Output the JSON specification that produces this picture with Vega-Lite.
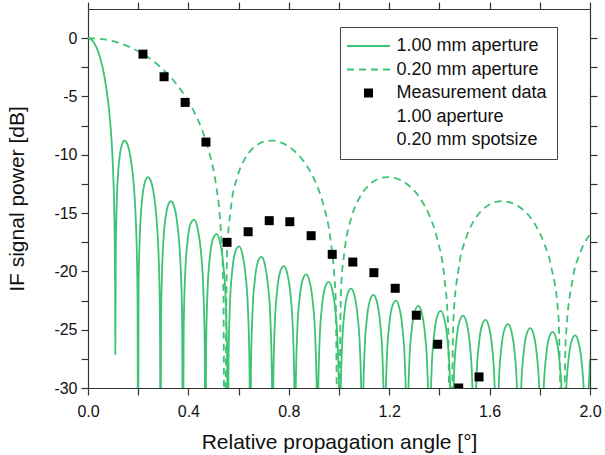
{
  "$schema": "https://vega.github.io/schema/vega-lite/v6.json",
  "width": 502,
  "height": 379,
  "autosize": "none",
  "padding": {"left": 88, "top": 9, "right": 15, "bottom": 67},
  "background": "white",
  "config": {"view": {"stroke": null}, "font": "Liberation Sans"},
  "datasets": {
    "solid": [
      {"x": 0, "y": 0}, {"x": 0.0114, "y": -0.09}, {"x": 0.0227, "y": -0.35}, {"x": 0.0341, "y": -0.81}, {"x": 0.0454, "y": -1.47}, {"x": 0.0568, "y": -2.39}, {"x": 0.0682, "y": -3.63}, {"x": 0.0795, "y": -5.34}, {"x": 0.0852, "y": -6.46}, {"x": 0.0909, "y": -7.87}, {"x": 0.0966, "y": -9.77}, {"x": 0.1022, "y": -12.75}, {"x": 0.1051, "y": -15.36}, {"x": 0.1079, "y": -21.72}, {"x": 0.1088, "y": -27.1},
      {"x": 0.1108, "y": -18.5}, {"x": 0.1136, "y": -14.81}, {"x": 0.1193, "y": -11.8}, {"x": 0.125, "y": -10.35}, {"x": 0.1306, "y": -9.52}, {"x": 0.1363, "y": -9.05}, {"x": 0.142, "y": -8.83}, {"x": 0.1477, "y": -8.79}, {"x": 0.1534, "y": -8.93}, {"x": 0.159, "y": -9.23}, {"x": 0.1647, "y": -9.7}, {"x": 0.1704, "y": -10.35}, {"x": 0.1761, "y": -11.24}, {"x": 0.1818, "y": -12.46}, {"x": 0.1874, "y": -14.22}, {"x": 0.1931, "y": -17.17}, {"x": 0.196, "y": -19.97}, {"x": 0.1974, "y": -22.47}, {"x": 0.1992, "y": -40},
      {"x": 0.2016, "y": -21.47}, {"x": 0.2045, "y": -18.22}, {"x": 0.2102, "y": -15.28}, {"x": 0.2158, "y": -13.78}, {"x": 0.2272, "y": -12.32}, {"x": 0.2386, "y": -11.91}, {"x": 0.2499, "y": -12.22}, {"x": 0.2613, "y": -13.25}, {"x": 0.2726, "y": -15.37}, {"x": 0.2783, "y": -17.23}, {"x": 0.284, "y": -20.6}, {"x": 0.2868, "y": -24.39}, {"x": 0.2889, "y": -40},
      {"x": 0.2911, "y": -24.28}, {"x": 0.2954, "y": -19.72}, {"x": 0.301, "y": -17.19}, {"x": 0.3124, "y": -14.93}, {"x": 0.3238, "y": -14.09}, {"x": 0.3294, "y": -13.98}, {"x": 0.3408, "y": -14.29}, {"x": 0.3522, "y": -15.32}, {"x": 0.3635, "y": -17.61}, {"x": 0.3692, "y": -19.66}, {"x": 0.3749, "y": -23.88}, {"x": 0.3784, "y": -40},
      {"x": 0.3811, "y": -25.18}, {"x": 0.3873, "y": -20.12}, {"x": 0.3963, "y": -17.47}, {"x": 0.4097, "y": -15.86}, {"x": 0.4231, "y": -15.57}, {"x": 0.4365, "y": -16.28}, {"x": 0.4499, "y": -18.29}, {"x": 0.4588, "y": -21.22}, {"x": 0.4651, "y": -26.48}, {"x": 0.4678, "y": -40},
      {"x": 0.4705, "y": -26.54}, {"x": 0.4767, "y": -21.46}, {"x": 0.4857, "y": -18.78}, {"x": 0.4991, "y": -17.14}, {"x": 0.5125, "y": -16.81}, {"x": 0.5258, "y": -17.48}, {"x": 0.5392, "y": -19.46}, {"x": 0.5482, "y": -22.36}, {"x": 0.5544, "y": -27.6}, {"x": 0.5571, "y": -40},
      {"x": 0.5598, "y": -27.67}, {"x": 0.566, "y": -22.57}, {"x": 0.575, "y": -19.88}, {"x": 0.5884, "y": -18.22}, {"x": 0.6018, "y": -17.86}, {"x": 0.6151, "y": -18.51}, {"x": 0.6285, "y": -20.46}, {"x": 0.6375, "y": -23.35}, {"x": 0.6437, "y": -28.57}, {"x": 0.6464, "y": -40},
      {"x": 0.6491, "y": -28.63}, {"x": 0.6553, "y": -23.52}, {"x": 0.6643, "y": -20.82}, {"x": 0.6777, "y": -19.13}, {"x": 0.6911, "y": -18.76}, {"x": 0.7044, "y": -19.39}, {"x": 0.7178, "y": -21.32}, {"x": 0.7268, "y": -24.2}, {"x": 0.733, "y": -29.42}, {"x": 0.7357, "y": -40},
      {"x": 0.7384, "y": -29.46}, {"x": 0.7446, "y": -24.35}, {"x": 0.7536, "y": -21.64}, {"x": 0.767, "y": -19.94}, {"x": 0.7804, "y": -19.55}, {"x": 0.7937, "y": -20.16}, {"x": 0.8071, "y": -22.08}, {"x": 0.8161, "y": -24.95}, {"x": 0.8223, "y": -30.16}, {"x": 0.8249, "y": -40},
      {"x": 0.8276, "y": -30.21}, {"x": 0.8338, "y": -25.09}, {"x": 0.8428, "y": -22.37}, {"x": 0.8562, "y": -20.66}, {"x": 0.8696, "y": -20.26}, {"x": 0.8829, "y": -20.86}, {"x": 0.8963, "y": -22.77}, {"x": 0.9053, "y": -25.63}, {"x": 0.9115, "y": -30.83}, {"x": 0.9142, "y": -40},
      {"x": 0.9169, "y": -30.88}, {"x": 0.9231, "y": -25.76}, {"x": 0.9321, "y": -23.03}, {"x": 0.9455, "y": -21.31}, {"x": 0.9589, "y": -20.9}, {"x": 0.9722, "y": -21.49}, {"x": 0.9856, "y": -23.39}, {"x": 0.9946, "y": -26.24}, {"x": 1.0008, "y": -31.44}, {"x": 1.0034, "y": -40},
      {"x": 1.0061, "y": -31.48}, {"x": 1.0123, "y": -26.36}, {"x": 1.0213, "y": -23.62}, {"x": 1.0347, "y": -21.9}, {"x": 1.0481, "y": -21.48}, {"x": 1.0614, "y": -22.06}, {"x": 1.0748, "y": -23.96}, {"x": 1.0838, "y": -26.8}, {"x": 1.09, "y": -32.0}, {"x": 1.0927, "y": -40},
      {"x": 1.0954, "y": -32.03}, {"x": 1.1016, "y": -26.91}, {"x": 1.1106, "y": -24.17}, {"x": 1.124, "y": -22.43}, {"x": 1.1374, "y": -22.01}, {"x": 1.1507, "y": -22.59}, {"x": 1.1641, "y": -24.47}, {"x": 1.1731, "y": -27.31}, {"x": 1.1793, "y": -32.51}, {"x": 1.1819, "y": -40},
      {"x": 1.1846, "y": -32.54}, {"x": 1.1908, "y": -27.41}, {"x": 1.1998, "y": -24.67}, {"x": 1.2132, "y": -22.93}, {"x": 1.2266, "y": -22.5}, {"x": 1.2399, "y": -23.07}, {"x": 1.2533, "y": -24.95}, {"x": 1.2623, "y": -27.79}, {"x": 1.2685, "y": -32.98}, {"x": 1.2712, "y": -40},
      {"x": 1.2739, "y": -33.01}, {"x": 1.2801, "y": -27.88}, {"x": 1.2891, "y": -25.14}, {"x": 1.3025, "y": -23.39}, {"x": 1.3159, "y": -22.96}, {"x": 1.3292, "y": -23.53}, {"x": 1.3426, "y": -25.4}, {"x": 1.3516, "y": -28.24}, {"x": 1.3578, "y": -33.43}, {"x": 1.3604, "y": -40},
      {"x": 1.3631, "y": -33.46}, {"x": 1.3693, "y": -28.32}, {"x": 1.3783, "y": -25.58}, {"x": 1.3917, "y": -23.83}, {"x": 1.4051, "y": -23.39}, {"x": 1.4184, "y": -23.95}, {"x": 1.4318, "y": -25.82}, {"x": 1.4408, "y": -28.66}, {"x": 1.447, "y": -33.84}, {"x": 1.4496, "y": -40},
      {"x": 1.4523, "y": -33.87}, {"x": 1.4585, "y": -28.73}, {"x": 1.4675, "y": -25.98}, {"x": 1.4809, "y": -24.23}, {"x": 1.4943, "y": -23.79}, {"x": 1.5076, "y": -24.35}, {"x": 1.521, "y": -26.22}, {"x": 1.53, "y": -29.05}, {"x": 1.5362, "y": -34.23}, {"x": 1.5389, "y": -40},
      {"x": 1.5416, "y": -34.25}, {"x": 1.5478, "y": -29.11}, {"x": 1.5568, "y": -26.36}, {"x": 1.5702, "y": -24.61}, {"x": 1.5836, "y": -24.16}, {"x": 1.5969, "y": -24.72}, {"x": 1.6103, "y": -26.58}, {"x": 1.6193, "y": -29.41}, {"x": 1.6255, "y": -34.59}, {"x": 1.6281, "y": -40},
      {"x": 1.6308, "y": -34.62}, {"x": 1.637, "y": -29.48}, {"x": 1.646, "y": -26.73}, {"x": 1.6594, "y": -24.97}, {"x": 1.6728, "y": -24.52}, {"x": 1.6861, "y": -25.07}, {"x": 1.6995, "y": -26.93}, {"x": 1.7085, "y": -29.76}, {"x": 1.7147, "y": -34.94}, {"x": 1.7173, "y": -40},
      {"x": 1.72, "y": -34.97}, {"x": 1.7262, "y": -29.83}, {"x": 1.7352, "y": -27.07}, {"x": 1.7486, "y": -25.31}, {"x": 1.762, "y": -24.86}, {"x": 1.7753, "y": -25.41}, {"x": 1.7887, "y": -27.27}, {"x": 1.7977, "y": -30.09}, {"x": 1.8039, "y": -35.27}, {"x": 1.8066, "y": -40},
      {"x": 1.8093, "y": -35.29}, {"x": 1.8155, "y": -30.15}, {"x": 1.8245, "y": -27.4}, {"x": 1.8379, "y": -25.63}, {"x": 1.8513, "y": -25.18}, {"x": 1.8646, "y": -25.73}, {"x": 1.878, "y": -27.58}, {"x": 1.887, "y": -30.41}, {"x": 1.8932, "y": -35.59}, {"x": 1.8958, "y": -40},
      {"x": 1.8985, "y": -35.61}, {"x": 1.9047, "y": -30.47}, {"x": 1.9137, "y": -27.71}, {"x": 1.9271, "y": -25.95}, {"x": 1.9405, "y": -25.49}, {"x": 1.9538, "y": -26.04}, {"x": 1.9672, "y": -27.89}, {"x": 1.9762, "y": -30.71}, {"x": 1.9824, "y": -35.89}, {"x": 1.985, "y": -40},
      {"x": 1.9877, "y": -35.91}, {"x": 1.9939, "y": -30.77}, {"x": 2.0, "y": -27.5}
    ],
    "dashed": [
      {"x": 0, "y": 0}, {"x": 0.0568, "y": -0.09}, {"x": 0.1136, "y": -0.35}, {"x": 0.1704, "y": -0.81}, {"x": 0.2272, "y": -1.47}, {"x": 0.284, "y": -2.39}, {"x": 0.3408, "y": -3.63}, {"x": 0.3976, "y": -5.34}, {"x": 0.426, "y": -6.46}, {"x": 0.4544, "y": -7.87}, {"x": 0.4828, "y": -9.77}, {"x": 0.5112, "y": -12.75}, {"x": 0.5254, "y": -15.36}, {"x": 0.5396, "y": -21.72}, {"x": 0.5441, "y": -40},
      {"x": 0.5538, "y": -18.5}, {"x": 0.568, "y": -14.81}, {"x": 0.5964, "y": -11.8}, {"x": 0.6248, "y": -10.35}, {"x": 0.6532, "y": -9.52}, {"x": 0.6816, "y": -9.05}, {"x": 0.71, "y": -8.83}, {"x": 0.7384, "y": -8.79}, {"x": 0.7668, "y": -8.93}, {"x": 0.7952, "y": -9.23}, {"x": 0.8236, "y": -9.7}, {"x": 0.852, "y": -10.35}, {"x": 0.8804, "y": -11.24}, {"x": 0.9088, "y": -12.46}, {"x": 0.9372, "y": -14.22}, {"x": 0.9656, "y": -17.17}, {"x": 0.9798, "y": -19.97}, {"x": 0.9869, "y": -22.47}, {"x": 0.9962, "y": -40},
      {"x": 1.0082, "y": -21.47}, {"x": 1.0224, "y": -18.22}, {"x": 1.0508, "y": -15.28}, {"x": 1.0792, "y": -13.78}, {"x": 1.1076, "y": -12.87}, {"x": 1.136, "y": -12.32}, {"x": 1.1644, "y": -12.01}, {"x": 1.1928, "y": -11.91}, {"x": 1.2212, "y": -11.98}, {"x": 1.2496, "y": -12.22}, {"x": 1.278, "y": -12.64}, {"x": 1.3064, "y": -13.25}, {"x": 1.3348, "y": -14.13}, {"x": 1.3632, "y": -15.37}, {"x": 1.3916, "y": -17.23}, {"x": 1.42, "y": -20.6}, {"x": 1.4342, "y": -24.39}, {"x": 1.4446, "y": -40},
      {"x": 1.4555, "y": -24.28}, {"x": 1.4768, "y": -19.72}, {"x": 1.5052, "y": -17.19}, {"x": 1.5336, "y": -15.8}, {"x": 1.562, "y": -14.93}, {"x": 1.5904, "y": -14.39}, {"x": 1.6188, "y": -14.09}, {"x": 1.6472, "y": -13.98}, {"x": 1.6756, "y": -14.05}, {"x": 1.704, "y": -14.29}, {"x": 1.7324, "y": -14.7}, {"x": 1.7608, "y": -15.32}, {"x": 1.7892, "y": -16.27}, {"x": 1.8176, "y": -17.61}, {"x": 1.846, "y": -19.66}, {"x": 1.8744, "y": -23.88}, {"x": 1.892, "y": -40},
      {"x": 1.9028, "y": -26.06}, {"x": 1.9312, "y": -20.62}, {"x": 1.9596, "y": -18.46}, {"x": 1.988, "y": -17.2}, {"x": 2.0, "y": -16.81}
    ],
    "measured": [
      {"x": 0.219, "y": -1.37}, {"x": 0.303, "y": -3.31}, {"x": 0.387, "y": -5.51}, {"x": 0.47, "y": -8.91}, {"x": 0.554, "y": -17.51}, {"x": 0.638, "y": -16.6}, {"x": 0.722, "y": -15.65}, {"x": 0.804, "y": -15.74}, {"x": 0.889, "y": -16.94}, {"x": 0.973, "y": -18.54}, {"x": 1.055, "y": -19.2}, {"x": 1.139, "y": -20.11}, {"x": 1.224, "y": -21.45}, {"x": 1.308, "y": -23.76}, {"x": 1.393, "y": -26.25}, {"x": 1.477, "y": -30.0}, {"x": 1.558, "y": -29.05}
    ]
  },
  "layer": [
    {
      "data": {"name": "solid"},
      "mark": {"type": "line", "clip": true, "strokeWidth": 1.8, "interpolate": "monotone"},
      "encoding": {
        "x": {
          "field": "x", "type": "quantitative",
          "scale": {"domain": [0, 2], "nice": false, "zero": false},
          "axis": {
            "orient": "bottom",
            "values": [0, 0.2, 0.4, 0.6, 0.8, 1, 1.2, 1.4, 1.6, 1.8, 2],
            "labelExpr": "abs(datum.value/0.4 - round(datum.value/0.4)) < 0.01 ? format(datum.value, '.1f') : ''",
            "tickSize": 7,
            "encode": {"ticks": {"update": {"y2": {"signal": "abs(datum.value/0.4 - round(datum.value/0.4)) < 0.01 ? 7 : 4"}}}},
            "title": "Relative propagation angle [°]",
            "titleFontSize": 21, "titleFontWeight": "normal", "titleColor": "#111", "titlePadding": 12,
            "labelFontSize": 16, "labelColor": "#111", "labelPadding": 8, "labelFlush": false, "labelOverlap": false,
            "grid": false, "domainColor": "#333", "tickColor": "#333", "domainWidth": 1.2, "tickWidth": 1.2
          }
        },
        "y": {
          "field": "y", "type": "quantitative",
          "scale": {"domain": [-30, 2.5], "nice": false, "zero": false},
          "axis": {
            "orient": "left",
            "values": [-30, -27.5, -25, -22.5, -20, -17.5, -15, -12.5, -10, -7.5, -5, -2.5, 0],
            "labelExpr": "datum.value % 5 == 0 ? '' + datum.value : ''",
            "tickSize": 7,
            "encode": {"ticks": {"update": {"x2": {"signal": "datum.value % 5 == 0 ? -7 : -4"}}}},
            "title": "IF signal power [dB]",
            "titleFontSize": 21, "titleFontWeight": "normal", "titleColor": "#111", "titlePadding": 26,
            "labelFontSize": 16, "labelColor": "#111", "labelPadding": 4, "labelFlush": false, "labelOverlap": false,
            "grid": false, "domainColor": "#333", "tickColor": "#333", "domainWidth": 1.2, "tickWidth": 1.2
          }
        },
        "color": {
          "datum": "1.00 mm aperture", "type": "nominal",
          "scale": {
            "domain": ["1.00 mm aperture", "0.20 mm aperture", "Measurement data", "1.00 aperture", "0.20 mm spotsize"],
            "range": ["#3ec274", "#3ec274", "#000000", "#ffffff", "#ffffff"]
          },
          "legend": {
            "orient": "none", "legendX": 252, "legendY": 18, "title": null,
            "padding": 10, "strokeColor": "#444", "fillColor": "white",
            "labelFontSize": 18, "labelColor": "#111", "labelFont": "Liberation Sans", "labelLimit": 400,
            "symbolSize": 81, "symbolOffset": 9.5, "labelOffset": 19, "rowPadding": 5.5,
            "encode": {
              "symbols": {
                "update": {
                  "shape": {"signal": "datum.value === 'Measurement data' ? 'square' : 'stroke'"},
                  "size": {"signal": "datum.value === 'Measurement data' ? 81 : 1849"},
                  "strokeDash": {"signal": "datum.value === '0.20 mm aperture' ? [7, 5] : [1, 0]"},
                  "strokeWidth": {"signal": "datum.value === 'Measurement data' ? 0 : 1.8"},
                  "fill": {"signal": "datum.value === 'Measurement data' ? '#000000' : 'transparent'"},
                  "stroke": {"signal": "datum.value === 'Measurement data' ? 'transparent' : '#3ec274'"},
                  "opacity": {"signal": "datum.value === '1.00 aperture' || datum.value === '0.20 mm spotsize' ? 0 : 1"}
                }
              }
            }
          }
        }
      }
    },
    {
      "data": {"name": "dashed"},
      "mark": {"type": "line", "clip": true, "strokeWidth": 1.8, "strokeDash": [7, 5], "interpolate": "monotone"},
      "encoding": {
        "x": {"field": "x", "type": "quantitative", "axis": null},
        "y": {"field": "y", "type": "quantitative", "axis": null},
        "color": {"datum": "0.20 mm aperture", "type": "nominal"}
      }
    },
    {
      "data": {"name": "measured"},
      "mark": {"type": "point", "shape": "square", "filled": true, "size": 81, "opacity": 1, "clip": true},
      "encoding": {
        "x": {
          "field": "x", "type": "quantitative",
          "axis": {
            "orient": "top",
            "values": [0, 0.2, 0.4, 0.6, 0.8, 1, 1.2, 1.4, 1.6, 1.8, 2],
            "labels": false, "title": null,
            "tickSize": 7,
            "encode": {"ticks": {"update": {"y2": {"signal": "abs(datum.value/0.4 - round(datum.value/0.4)) < 0.01 ? 7 : 4"}}}},
            "grid": false, "domainColor": "#333", "tickColor": "#333", "domainWidth": 1.2, "tickWidth": 1.2
          }
        },
        "y": {
          "field": "y", "type": "quantitative",
          "axis": {
            "orient": "right",
            "values": [-30, -27.5, -25, -22.5, -20, -17.5, -15, -12.5, -10, -7.5, -5, -2.5, 0],
            "labels": false, "title": null,
            "tickSize": 7,
            "encode": {"ticks": {"update": {"x2": {"signal": "datum.value % 5 == 0 ? -7 : -4"}}}},
            "grid": false, "domainColor": "#333", "tickColor": "#333", "domainWidth": 1.2, "tickWidth": 1.2
          }
        },
        "color": {"datum": "Measurement data", "type": "nominal"}
      }
    }
  ],
  "resolve": {"axis": {"x": "independent", "y": "independent"}}
}
